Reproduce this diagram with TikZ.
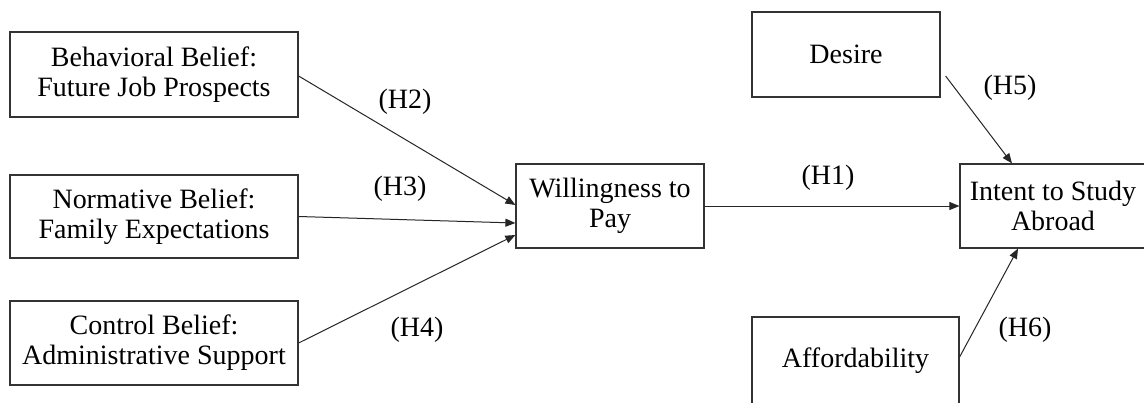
\documentclass[tikz,border=0pt]{standalone}
\usepackage{fontspec}
\setmainfont{Liberation Serif}
\usetikzlibrary{arrows.meta}
\begin{document}
\begin{tikzpicture}[x=1pt,y=-1pt,
  box/.style={draw=black!80, line width=1.2pt, rectangle, inner sep=0pt,
    align=center, font=\fontsize{28}{30}\selectfont},
  link/.style={draw=black!85, line width=1pt, -{Triangle[length=10pt,width=8pt]}},
  hyp/.style={font=\fontsize{28}{30}\selectfont, inner sep=0pt}]
\clip (0,0) rectangle (1144,402);
\fill[white] (0,0) rectangle (1144,402);

% belief constructs
\node[box, minimum width=288pt, minimum height=85pt] (bb) at (154,74.5)
  {Behavioral Belief:\\Future Job Prospects};
\node[box, minimum width=288pt, minimum height=83pt] (nb) at (154,216.5)
  {Normative Belief:\\Family Expectations};
\node[box, minimum width=288pt, minimum height=84pt] (cb) at (154,343)
  {Control Belief:\\Administrative Support};

% mediator and outcome
\node[box, minimum width=188pt, minimum height=84pt] (wtp) at (610,206)
  {Willingness to\\Pay};
\node[box, minimum width=186pt, minimum height=84pt] (isa) at (1053,206)
  {Intent to Study\\Abroad};

% further predictors
\node[box, minimum width=188pt, minimum height=85pt] (des) at (846,54.5) {Desire};
\node[box, minimum width=207pt, minimum height=88pt] (aff) at (855.5,361) {Affordability};

% hypothesised paths
\draw[link] ([yshift=-1.5pt]bb.east) -- ([yshift=1pt]wtp.west);
\draw[link] (nb.east) -- ([yshift=-17pt]wtp.west);
\draw[link] (cb.east) -- ([yshift=-29pt]wtp.west);
\draw[link] (wtp.east) -- (isa.west);
\coordinate (h5s) at ([xshift=5pt,yshift=-21.5pt]des.east);
\draw[link] (h5s) -- ([xshift=-41pt]isa.north);
\draw[link] ([yshift=4pt]aff.east) -- ([xshift=-35pt]isa.south);

% path labels
\node[hyp] (l2) at (405,102) {(H2)};
\node[hyp] (l3) at (400,189) {(H3)};
\node[hyp] (l4) at (417,330) {(H4)};
\node[hyp] (l1) at (828,178) {(H1)};
\node[hyp] (l5) at (1010,88) {(H5)};
\node[hyp] (l6) at (1025,330) {(H6)};
\end{tikzpicture}
\end{document}
